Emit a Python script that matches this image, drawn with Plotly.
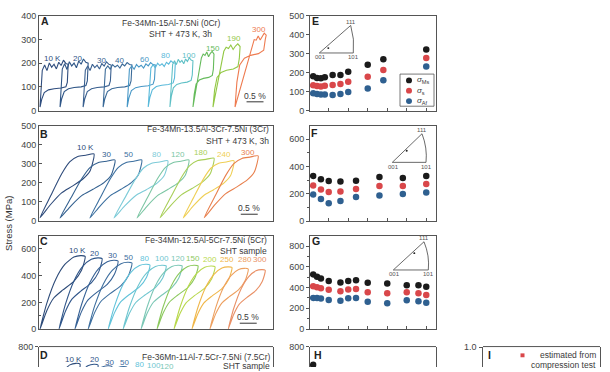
import plotly.graph_objects as go

FIG_W, FIG_H = 610, 372
FONT = "Arial, 'Liberation Sans', sans-serif"
TXT = "#3a3a3a"
AXC = "#555555"

# ---------------- Panel A : Fe-34Mn-15Al-7.5Ni (0Cr) ----------------
A_LABELS = ["10 K", "20", "30", "40", "60", "80", "100", "150", "190", "300"]
A_COLORS = ["#2f4d7e", "#2f5687", "#3a6090", "#3a6a98", "#4797c6", "#59b9da",
            "#5fc0c6", "#66bb5c", "#93c845", "#ee7b50"]
A_START = [0.03, 0.62, 1.30, 1.89, 2.60, 3.22, 3.86, 4.54, 5.13, 5.78]     # strain %
A_WIDTH = [0.83, 0.83, 0.83, 0.85, 0.83, 0.80, 0.68, 0.62, 0.80, 0.92]
A_S0 = [15, 15, 15, 15, 15, 15, 15, 15, 15, 15]
A_SU = [170, 175, 170, 175, 175, 180, 195, 222, 250, 280]
A_SP = [195, 200, 192, 192, 192, 200, 210, 238, 270, 318]
A_SL = [95, 100, 100, 100, 105, 110, 120, 140, 175, 240]
A_RISE = [0.08, 0.08, 0.08, 0.08, 0.08, 0.10, 0.12, 0.40, 0.40, 0.55]
A_SERR_AMP = [1.0, 1.0, 0.8, 0.6, 0.6, 0.6, 0.7, 1.0, 1.0, 1.0]
SERR_LOW = [0, 20, -6, 24, 4, 14, -8, 18, 2, 22, 6, 0]
SERR_HIGH = [0, 14, 6, 18, -4, 8, 14, 0]
A_SERR = [SERR_LOW] * 7 + [SERR_HIGH] * 3
A_LO_U = [0.97, 0.92, 0.75, 0.50, 0.30, 0.15, 0.06]
A_LO_V = [1.25, 1.06, 1.00, 0.97, 0.92, 0.80, 0.50]
A_LABEL_X = [0.40, 1.14, 1.85, 2.36, 3.10, 3.74, 4.42, 5.13, 5.74, 6.49]
A_LABEL_Y = [219, 219, 212, 212, 215, 233, 233, 260, 302, 343]

# ---------------- Panel B : Fe-34Mn-13.5Al-3Cr-7.5Ni (3Cr) ----------------
B_LABELS = ["10 K", "30", "50", "80", "120", "180", "240", "300"]
B_COLORS = ["#2d4a7a", "#33608f", "#3b6f9f", "#7dcbd8", "#7cc6a4", "#a8cf58", "#efcf55", "#e8804e"]
B_START = [0.03, 0.62, 1.50, 2.21, 2.89, 3.57, 4.25, 4.87]
B_WIDTH = [1.59, 1.62, 1.53, 1.59, 1.53, 1.59, 1.50, 1.59]
B_PEAK = [352, 320, 320, 316, 320, 330, 316, 342]
B_UP_U = [0, 0.2, 0.4, 0.55, 0.7, 0.85, 1.0]
B_UP_V = [0.05, 0.38, 0.70, 0.88, 0.96, 0.98, 1.0]
B_LO_U = [0.93, 0.8, 0.6, 0.4, 0.2, 0.0]
B_LO_V = [0.75, 0.63, 0.52, 0.42, 0.25, 0.05]
B_LABEL_X = [1.37, 2.0, 2.65, 3.45, 4.10, 4.78, 5.46, 6.17]
B_LABEL_Y = [384, 350, 350, 350, 350, 359, 350, 359]

# ---------------- Panel C : Fe-34Mn-12.5Al-5Cr-7.5Ni (5Cr) ----------------
C_LABELS = ["10 K", "20", "30", "50", "80", "100", "120", "150", "200", "250", "280", "300"]
C_COLORS = ["#2c4a78", "#30568a", "#376296", "#3e6f9f", "#62c3da", "#6fc6d0",
            "#7bc7b5", "#8cc95e", "#b8d84c", "#f0b74a", "#eda060", "#e99066"]
C_START = [0.03, 0.59, 1.06, 1.45, 2.04, 2.48, 3.01, 3.48, 3.98, 4.51, 5.04, 5.58]
C_WIDTH = [1.33, 1.27, 1.27, 1.29, 1.23, 1.27, 1.21, 1.21, 1.21, 1.18, 1.13, 1.09]
C_PEAK = [550, 533, 515, 500, 485, 478, 478, 478, 472, 466, 455, 445]
C_UP_U = [0, 0.15, 0.35, 0.55, 0.75, 0.9, 1.0]
C_UP_V = [0.0, 0.35, 0.68, 0.88, 0.98, 1.0, 0.99]
C_LO_U = [0.92, 0.75, 0.5, 0.3, 0.15, 0.0]
C_LO_V = [0.8, 0.65, 0.53, 0.42, 0.25, 0.0]
C_LABEL_X = [1.14, 1.65, 2.18, 2.65, 3.11, 3.62, 4.09, 4.54, 5.04, 5.55, 6.08, 6.52]
C_LABEL_Y = [585, 565, 551, 534, 527, 527, 527, 527, 522, 522, 519, 519]

# ---------------- Panel D : Fe-36Mn-11Al-7.5Cr-7.5Ni (7.5Cr) ----------------
D_LABELS = ["10 K", "20", "30", "50", "80", "100", "120"]
D_COLORS = ["#2c4a78", "#30568a", "#376296", "#3e6f9f", "#62c3da", "#6fc6d0", "#7bc7b5"]
D_START = [0.01, 0.54, 0.95, 1.40, 1.84, 2.25, 2.61]
D_WIDTH = [1.2, 1.2, 1.2, 1.2, 1.2, 1.2, 1.2]
D_PEAK = [660, 652, 640, 632, 622, 615, 605]
D_LABEL_X = [1.03, 1.65, 2.08, 2.51, 2.95, 3.38, 3.76]
D_LABEL_Y = [694, 690, 665, 665, 653, 645, 637]

# ---------------- Right panels: critical stresses vs temperature ----------------
E_TEMP = [10, 20, 30, 40, 60, 80, 100, 150, 190, 300]
E_MS = [181, 172, 170, 176, 187, 188, 204, 242, 270, 322]
E_S = [133, 130, 127, 131, 135, 140, 152, 178, 214, 277]
E_AF = [91, 88, 85, 85, 82, 87, 98, 116, 160, 232]

F_TEMP = [10, 30, 50, 80, 120, 180, 240, 300]
F_MS = [331, 307, 293, 291, 295, 324, 316, 331]
F_S = [260, 232, 213, 217, 236, 257, 257, 271]
F_AF = [194, 161, 130, 147, 177, 188, 198, 209]

G_TEMP = [10, 20, 30, 50, 80, 100, 120, 150, 200, 250, 280, 300]
G_MS = [526, 505, 486, 464, 449, 464, 470, 445, 439, 423, 423, 408]
G_S = [412, 402, 393, 378, 365, 381, 387, 355, 345, 355, 345, 329]
G_AF = [300, 300, 294, 279, 272, 297, 300, 264, 249, 277, 267, 253]

H_TEMP = [10]
H_MS = [625]

C_MS, C_S, C_AF = "#1b1b1b", "#d9474a", "#2f6090"

# inverse pole figure insets (pixel anchors: 001 corner, 101 corner, 111 corner, loading axis dot)
IPF_001 = [(319.3, 49.3), (392.3, 161.7), (393.3, 272.3)]
IPF_101 = [(353.3, 49.3), (426.0, 161.7), (428.3, 272.3)]
IPF_111 = [(350.7, 21.0), (422.0, 132.3), (424.0, 243.3)]
IPF_DOT = [(328.3, 44.3), (406.7, 149.7), (414.3, 255.0)]

STRAIN_RANGE = [0, 6.9]
T_RANGE = [2, 325]


def px(x):
    return x / FIG_W


def py(y):
    return 1 - y / FIG_H


fig = go.Figure()


def add_line(xs, ys, color, n, shape="linear"):
    fig.add_trace(go.Scatter(
        x=xs, y=ys, mode="lines",
        line=dict(color=color, width=1.1, shape=shape, smoothing=0.6),
        xaxis="x" if n == 1 else f"x{n}", yaxis="y" if n == 1 else f"y{n}",
        hoverinfo="skip", showlegend=False))


# Panel A loops (plateau with serrations)
for i in range(len(A_LABELS)):
    x0, w = A_START[i], A_WIDTH[i]
    xs, ys = [x0, x0 + A_RISE[i] * w], [A_S0[i], A_SU[i]]
    serr = A_SERR[i]
    for k in range(1, len(serr)):
        f = k / (len(serr) - 1)
        xs.append(x0 + (A_RISE[i] + (1 - A_RISE[i]) * f) * w)
        ys.append(A_SU[i] + (A_SP[i] - A_SU[i]) * f + A_SERR_AMP[i] * serr[k])
    for u, v in zip(A_LO_U, A_LO_V):
        xs.append(x0 + u * w)
        ys.append(A_SL[i] * v)
    xs.append(x0)
    ys.append(A_S0[i])
    add_line(xs, ys, A_COLORS[i], 1)


def smooth_loop(x0, w, peak, uu, uv, lu, lv):
    xs = [x0 + u * w for u in uu] + [x0 + u * w for u in lu]
    ys = [peak * v for v in uv] + [peak * v for v in lv]
    return xs, ys


for i in range(len(B_LABELS)):
    xs, ys = smooth_loop(B_START[i], B_WIDTH[i], B_PEAK[i], B_UP_U, B_UP_V, B_LO_U, B_LO_V)
    add_line(xs, ys, B_COLORS[i], 2, "spline")
for i in range(len(C_LABELS)):
    xs, ys = smooth_loop(C_START[i], C_WIDTH[i], C_PEAK[i], C_UP_U, C_UP_V, C_LO_U, C_LO_V)
    add_line(xs, ys, C_COLORS[i], 3, "spline")
for i in range(len(D_LABELS)):
    xs, ys = smooth_loop(D_START[i], D_WIDTH[i], D_PEAK[i], C_UP_U, C_UP_V, C_LO_U, C_LO_V)
    add_line(xs, ys, D_COLORS[i], 4, "spline")


def add_pts(t, vals, color, n):
    fig.add_trace(go.Scatter(
        x=t, y=vals, mode="markers", marker=dict(color=color, size=6.5),
        xaxis=f"x{n}", yaxis=f"y{n}", hoverinfo="skip", showlegend=False))


for n, (t, ms, s, af) in zip([5, 6, 7], [(E_TEMP, E_MS, E_S, E_AF), (F_TEMP, F_MS, F_S, F_AF),
                                          (G_TEMP, G_MS, G_S, G_AF)]):
    add_pts(t, ms, C_MS, n)
    add_pts(t, s, C_S, n)
    add_pts(t, af, C_AF, n)
add_pts(H_TEMP, H_MS, C_MS, 8)

# ---------------- axes ----------------
LEFT_X = [px(39), px(273)]
RIGHT_X = [px(310), px(436)]
I_X = [px(483), px(600)]
ROWS = [[py(108.5), py(11)], [py(222), py(124)], [py(333), py(237)], [0, py(351)]]

tickfont = dict(family=FONT, size=9, color="#444")
layout = dict(width=FIG_W, height=FIG_H, margin=dict(l=0, r=0, t=0, b=0),
              paper_bgcolor="white", plot_bgcolor="white", showlegend=False,
              font=dict(family=FONT, color=TXT))


def xax(n, dom, rng, left, bottom_line=True):
    d = dict(domain=dom, range=rng, anchor="y" if n == 1 else f"y{n}", showgrid=False,
             zeroline=False, showline=bottom_line, mirror=True, linecolor=AXC, linewidth=1,
             showticklabels=False, fixedrange=True)
    if left:
        d.update(ticks="")
    else:
        d.update(ticks="inside" if bottom_line else "", ticklen=3, tickcolor=AXC, dtick=50, tick0=0)
    return d


def yax(n, dom, rng, tickvals, inside, minor=None, labels=True):
    d = dict(domain=dom, range=rng, anchor="x" if n == 1 else f"x{n}", showgrid=False,
             zeroline=False, showline=True, mirror=True, linecolor=AXC, linewidth=1,
             tickvals=tickvals, ticks="inside" if inside else "outside", ticklen=3,
             tickcolor=AXC, tickfont=tickfont, fixedrange=True, showticklabels=labels)
    if minor:
        d["minor"] = dict(tickvals=minor, ticks="inside" if inside else "outside",
                          ticklen=2, tickcolor=AXC)
    return d


layout["xaxis"] = xax(1, LEFT_X, STRAIN_RANGE, True)
layout["yaxis"] = yax(1, ROWS[0], [0, 400], [0, 100, 200, 300, 400], True)
layout["xaxis2"] = xax(2, LEFT_X, STRAIN_RANGE, True)
layout["yaxis2"] = yax(2, ROWS[1], [0, 500], [0, 100, 200, 300, 400, 500], True)
layout["xaxis3"] = xax(3, LEFT_X, STRAIN_RANGE, True)
layout["yaxis3"] = yax(3, ROWS[2], [0, 700], [0, 200, 400, 600], True, [100, 300, 500])
layout["xaxis4"] = xax(4, LEFT_X, STRAIN_RANGE, True, bottom_line=False)
layout["yaxis4"] = yax(4, ROWS[3], [629, 802], [800], False)
layout["xaxis5"] = xax(5, RIGHT_X, T_RANGE, False)
layout["yaxis5"] = yax(5, ROWS[0], [0, 500], [0, 100, 200, 300, 400, 500], False)
layout["xaxis6"] = xax(6, RIGHT_X, T_RANGE, False)
layout["yaxis6"] = yax(6, ROWS[1], [0, 700], [0, 200, 400, 600], False, [100, 300, 500])
layout["xaxis7"] = xax(7, RIGHT_X, T_RANGE, False)
layout["yaxis7"] = yax(7, ROWS[2], [0, 900], [0, 200, 400, 600, 800], False, [100, 300, 500, 700])
layout["xaxis8"] = xax(8, RIGHT_X, T_RANGE, False, bottom_line=False)
layout["yaxis8"] = yax(8, ROWS[3], [604, 802], [800], False)
layout["xaxis9"] = xax(9, I_X, [0, 1], False, bottom_line=False)
layout["yaxis9"] = yax(9, ROWS[3], [0.76, 1.01], [1.0], False, labels=False)

shapes = []
annotations = []

# top borders of the cut-off bottom row
for x0, x1 in [(39, 273), (310, 436), (483, 600)]:
    shapes.append(dict(type="line", xref="paper", yref="paper", x0=px(x0), x1=px(x1),
                       y0=py(351), y1=py(351), line=dict(color=AXC, width=1)))


def ann(x, y, text, size=8.5, color=TXT, xanchor="center", bold=False, xref="paper", yref="paper", **kw):
    if bold:
        text = f"<b>{text}</b>"
    annotations.append(dict(x=x, y=y, xref=xref, yref=yref, text=text, showarrow=False,
                            xanchor=xanchor, yanchor="middle",
                            font=dict(family=FONT, size=size, color=color), **kw))


# panel letters
for letter, (x, y) in zip("ABCDEFGHI", [(45, 16), (43.5, 132.5), (43.5, 243), (44, 360),
                                         (315, 16.5), (314.5, 132), (316, 242.5), (318, 360), (489, 360)]):
    ann(px(x), py(y), letter, size=10.5, color="#222", bold=True)

# tick label of panel I (top of its y axis, value 1.0)
ann(0.98, 1.0, "1.0", size=9, color="#444", xanchor="right", xref="x9 domain", yref="y9",
    xshift=-(0.98 * 117) - 4)

# composition texts
ann(px(222), py(18.3), "Fe-34Mn-15Al-7.5Ni (0Cr)", xanchor="right")
ann(px(214), py(29.3), "SHT + 473 K, 3h", xanchor="right")
ann(px(271), py(127.3), "Fe-34Mn-13.5Al-3Cr-7.5Ni (3Cr)", xanchor="right")
ann(px(271), py(139.3), "SHT + 473 K, 3h", xanchor="right")
ann(px(269), py(241), "Fe-34Mn-12.5Al-5Cr-7.5Ni (5Cr)", xanchor="right")
ann(px(269), py(253.3), "SHT sample", xanchor="right")
ann(px(272), py(361.5), "Fe-36Mn-11Al-7.5Cr-7.5Ni (7.5Cr)", xanchor="right")
ann(px(272), py(370.5), "SHT sample", xanchor="right")

# temperature labels
for n, labs, cols, lx, ly in [(1, A_LABELS, A_COLORS, A_LABEL_X, A_LABEL_Y),
                              (2, B_LABELS, B_COLORS, B_LABEL_X, B_LABEL_Y),
                              (3, C_LABELS, C_COLORS, C_LABEL_X, C_LABEL_Y),
                              (4, D_LABELS, D_COLORS, D_LABEL_X, D_LABEL_Y)]:
    xr = "x" if n == 1 else f"x{n}"
    yr = "y" if n == 1 else f"y{n}"
    for lab, col, x, y in zip(labs, cols, lx, ly):
        ann(x, y, lab, size=8, color=col, xref=xr, yref=yr)

# scale bars (0.5 % strain)
SCALE_LEN = 0.5
for n, xs, ybar, ytxt in [(1, 6.12, 99.5, 94.0), (2, 5.95, 215.0, 208.5), (3, 5.92, 327.0, 321.0)]:
    xr = "x" if n == 1 else f"x{n}"
    shapes.append(dict(type="line", xref=xr, yref="paper", x0=xs, x1=xs + SCALE_LEN,
                       y0=py(ybar), y1=py(ybar), line=dict(color="#333", width=1)))
    ann(xs + SCALE_LEN / 2, py(ytxt), "0.5 %", size=8.5, xref=xr)

# y title
ann(px(9), py(225), "Stress (MPa)", size=9.5, color="#333", textangle=-90)

# legend of panel E
shapes.append(dict(type="rect", xref="paper", yref="paper", x0=px(400), x1=px(434),
                   y0=py(104), y1=py(71), line=dict(color=AXC, width=0.8), fillcolor="white"))
for yy, col, lab in [(77.5, C_MS, "<i>σ</i><sub>Ms</sub>"), (88.0, C_S, "<i>σ</i><sub>s</sub>"),
                     (98.7, C_AF, "<i>σ</i><sub>Af</sub>")]:
    shapes.append(dict(type="circle", xref="paper", yref="paper", x0=px(406), x1=px(412),
                       y0=py(yy + 3), y1=py(yy - 3), fillcolor=col, line=dict(width=0)))
    ann(px(415), py(yy), lab, size=8, xanchor="left")

# IPF insets
for (a, b, c, d) in zip(IPF_001, IPF_101, IPF_111, IPF_DOT):
    shapes.append(dict(type="path", xref="paper", yref="paper",
                       path=f"M {px(c[0])},{py(c[1])} L {px(a[0])},{py(a[1])} L {px(b[0])},{py(b[1])} "
                            f"Q {px(b[0] + 1.5)},{py((b[1] + c[1]) / 2)} {px(c[0])},{py(c[1])}",
                       line=dict(color="#444", width=0.8)))
    shapes.append(dict(type="circle", xref="paper", yref="paper", x0=px(d[0] - 1), x1=px(d[0] + 1),
                       y0=py(d[1] + 1), y1=py(d[1] - 1), fillcolor="#222", line=dict(width=0)))
    ann(px(a[0] + 1), py(a[1] + 4.5), "001", size=6, color="#555")
    ann(px(b[0]), py(b[1] + 4.5), "101", size=6, color="#555")
    ann(px(c[0]), py(c[1] - 4), "111", size=6, color="#555")

# panel I legend
shapes.append(dict(type="rect", xref="paper", yref="paper", x0=px(520.5), x1=px(524.5),
                   y0=py(362), y1=py(358), fillcolor="#d9474a", line=dict(width=0)))
ann(px(598), py(359.5), "estimated from", size=8.5, xanchor="right")
ann(px(598), py(369.5), "compression test", size=8.5, xanchor="right")

layout["shapes"] = shapes
layout["annotations"] = annotations
fig.update_layout(**layout)
fig.write_html("out.html", config={"displayModeBar": False, "staticPlot": True},
               post_script="document.body.style.margin='0';document.body.style.overflow='hidden';")
